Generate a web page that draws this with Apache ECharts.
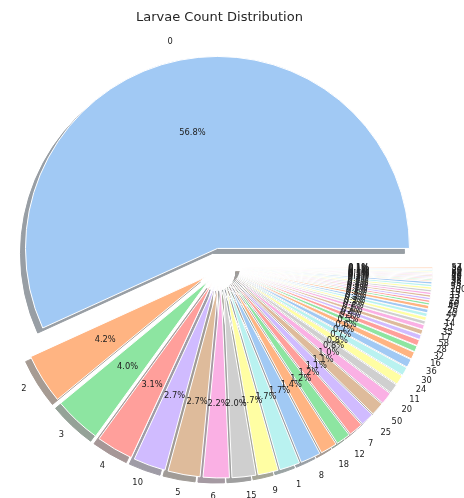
<!DOCTYPE html>
<html>
<head>
<meta charset="utf-8">
<script src="https://cdn.jsdelivr.net/npm/echarts@6/dist/echarts.min.js"></script>
<style>html,body{margin:0;padding:0;background:#fff}#c{width:464px;height:498px}</style>
</head>
<body>
<div id="c"></div>
<script>
// Larvae count categories (ordered by frequency, as in the reference)
const categories = ['0','2','3','4','10','5','6','15','9','1','8','18','12','7','25','50','20','11','24','30','36','16','32','28',
  '58','17','35','21','14','27','40','26','45','60','23','22','13','19','100','33','48',
  '31','38','42','55','70','44','65','80','29','34','57'];
// Share of each category (percent)
const shares = [56.8,4.2,4.0,3.1,2.7,2.7,2.2,2.0,1.7,1.7,1.7,1.4,1.2,1.2,1.1,1.1,1.0,0.8,0.8,0.7,0.7,0.6,0.5,0.5,
  0.4,0.4,0.4,0.3,0.3,0.3,0.3,0.3,0.2,0.2,0.2,0.2,0.2,0.2,0.2,0.2,0.2,
  0.1,0.1,0.1,0.1,0.1,0.1,0.1,0.1,0.1,0.1,0.1];
const palette = ['#a1c9f4','#ffb482','#8de5a1','#ff9f9b','#d0bbff','#debb9b','#fab0e4','#cfcfcf','#fffea3','#b9f2f0'];

function shadowOf(hex){
  const n = parseInt(hex.slice(1),16);
  const r=(n>>16)&255,g=(n>>8)&255,b=n&255;
  const f=v=>Math.round(0.15*v+127.5);
  return 'rgb('+f(r)+','+f(g)+','+f(b)+')';
}

const R = 192, CX = 221.5, CY = 267, EXP = 19, SH = 5;
const FONT = 'DejaVu Sans';

const mainData = categories.map((c,i)=>({name:c,value:shares[i],selected:true,
  itemStyle:{color:palette[i%palette.length]}}));
const shadowData = categories.map((c,i)=>({name:c,value:shares[i],selected:true,
  itemStyle:{color:shadowOf(palette[i%palette.length]),borderColor:shadowOf(palette[i%palette.length]),borderWidth:1}}));
const pctData = categories.map((c,i)=>({name:c,value:shares[i],selected:true}));

const common = {type:'pie',startAngle:0,clockwise:false,selectedMode:'multiple',selectedOffset:EXP,
  avoidLabelOverlap:false,animation:false,silent:true,percentPrecision:1,minShowLabelAngle:0,
  labelLayout:{hideOverlap:false,moveOverlap:false},
  emphasis:{disabled:true}};

const chart = echarts.init(document.getElementById('c'),null,{renderer:'canvas'});
chart.setOption({
  backgroundColor:'#ffffff',
  title:{text:'Larvae Count Distribution',left:131,top:6,
    textStyle:{fontFamily:FONT,fontSize:13,fontWeight:'normal',color:'#262626'}},
  series:[
    Object.assign({},common,{name:'shadow',center:[CX-SH,CY+SH],radius:R,z:1,
      label:{show:false},labelLine:{show:false},data:shadowData}),
    Object.assign({},common,{name:'main',center:[CX,CY],radius:R,z:2,
      itemStyle:{borderColor:'#ffffff',borderWidth:1},
      label:{show:true,position:'outside',fontFamily:FONT,fontSize:8.3,color:'#222',
        formatter:'{b}',distanceToLabelLine:0},
      labelLine:{show:false,length:EXP,length2:0},
      data:mainData}),
    Object.assign({},common,{name:'pct',center:[CX,CY],radius:[R*0.2,R],z:3,
      itemStyle:{color:'rgba(0,0,0,0)'},
      label:{show:true,position:'inside',fontFamily:FONT,fontSize:8.3,color:'#222',
        formatter:p=>p.percent.toFixed(1)+'%'},
      labelLine:{show:false},data:pctData})
  ]
});
</script>
</body>
</html>
